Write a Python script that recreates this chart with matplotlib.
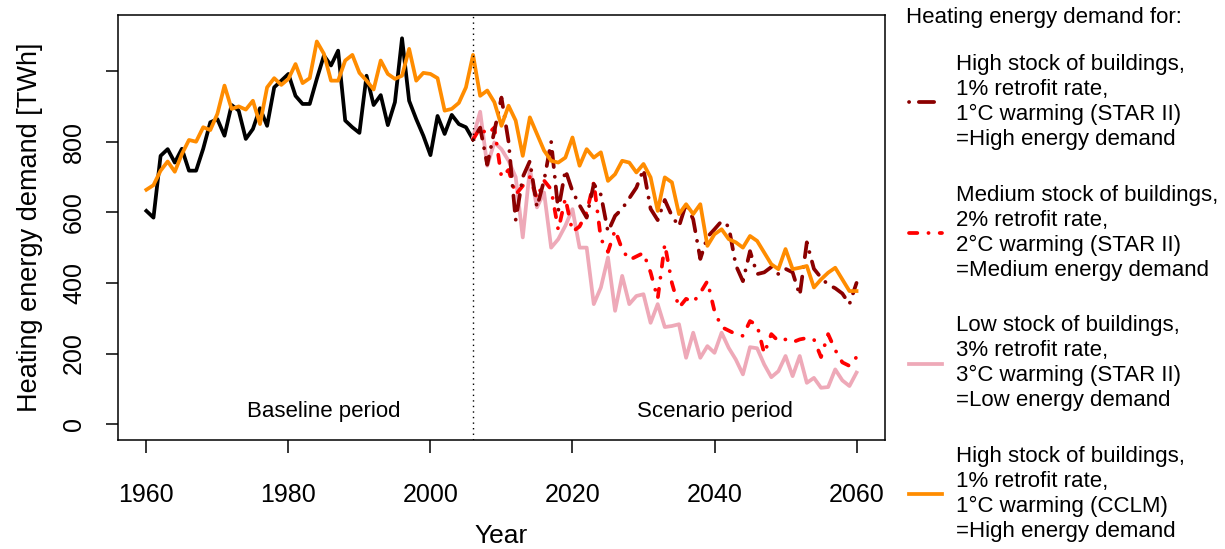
import numpy as np
import matplotlib
matplotlib.use("Agg")
import matplotlib.pyplot as plt

plt.rcParams['font.family'] = ['Liberation Sans', 'DejaVu Sans']
plt.rcParams['lines.scale_dashes'] = False

# Baseline period (observed), 1960-2006
years_base = np.arange(1960, 2007)
baseline = [604, 585, 760, 779, 741, 780, 718, 718, 780, 855,
            864, 817, 904, 888, 808, 836, 895, 845, 954, 973,
            992, 930, 907, 907, 978, 1044, 1016, 1058, 860, 841,
            825, 987, 904, 932, 847, 912, 1093, 916, 864, 817,
            762, 873, 822, 876, 850, 841, 806]

# CCLM run, 1960-2060
years_cclm = np.arange(1960, 2061)
high_cclm = [664, 677, 718, 744, 715, 765, 805, 800, 841, 833,
             879, 959, 893, 900, 891, 916, 850, 954, 980, 961,
             978, 1020, 966, 980, 1084, 1049, 973, 973, 1030, 1046,
             995, 973, 948, 1030, 992, 978, 987, 1063, 973, 995,
             992, 980, 888, 893, 910, 954, 1046, 930, 945, 912,
             845, 902, 860, 760, 869, 822, 775, 746, 741, 755,
             812, 732, 779, 755, 770, 689, 708, 746, 741, 713,
             737, 699, 604, 699, 685, 595, 623, 595, 623, 505,
             538, 552, 524, 515, 500, 533, 519, 486, 453, 439,
             496, 439, 443, 448, 387, 410, 429, 443, 410, 377,
             377]

# STAR II scenarios, 2006-2060
years_scen = np.arange(2006, 2061)
high_star = [806, 840, 735, 830, 925, 800, 578, 700, 745, 615,
             690, 800, 605, 720, 660, 620, 585, 680, 650, 545,
             590, 610, 640, 670, 722, 610, 578, 635, 590, 560,
             625, 580, 468, 530, 552, 575, 560, 450, 405, 490,
             425, 430, 445, 425, 440, 430, 365, 515, 440, 415,
             395, 385, 370, 340, 400]
medium_star = [806, 840, 820, 840, 700, 720, 650, 675, 700, 640,
               690, 665, 550, 640, 545, 560, 600, 685, 525, 488,
               550, 495, 465, 475, 485, 430, 355, 510, 400, 330,
               355, 345, 372, 405, 320, 275, 265, 255, 250, 292,
               280, 200, 255, 235, 240, 232, 240, 244, 240, 190,
               255, 210, 175, 165, 190]
low_star = [812, 885, 732, 798, 779, 746, 700, 529, 723, 614,
            656, 500, 524, 562, 609, 500, 500, 340, 387, 472,
            321, 420, 340, 363, 368, 287, 340, 275, 278, 283,
            188, 259, 188, 221, 202, 259, 216, 183, 141, 218,
            215, 169, 133, 150, 193, 136, 193, 117, 131, 103,
            105, 155, 124, 108, 146]

labels = [
    "High stock of buildings,\n1% retrofit rate,\n1°C warming (STAR II)\n=High energy demand",
    "Medium stock of buildings,\n2% retrofit rate,\n2°C warming (STAR II)\n=Medium energy demand",
    "Low stock of buildings,\n3% retrofit rate,\n3°C warming (STAR II)\n=Low energy demand",
    "High stock of buildings,\n1% retrofit rate,\n1°C warming (CCLM)\n=High energy demand",
]

fig = plt.figure(figsize=(12.25, 5.49), dpi=100)
ax = fig.add_axes([0.0963, 0.1985, 0.6261, 0.7742])

lw = 2.7
ax.plot(years_base, baseline, color='black', lw=lw)
l_low, = ax.plot(years_scen, low_star, color='#EEA9B8', lw=lw)
l_med, = ax.plot(years_scen, medium_star, color='red', lw=lw,
                 dashes=(6, 8, 0.1, 8), dash_capstyle='round')
l_high, = ax.plot(years_scen, high_star, color='#8B0000', lw=lw,
                  dashes=(0.1, 7, 11, 7), dash_capstyle='round')
l_cclm, = ax.plot(years_cclm, high_cclm, color='#FF8C00', lw=lw)

ax.axvline(2006, color='black', lw=1, ls=(0, (1, 3)))

ax.text(1985, 37, "Baseline period", ha='center', va='center', fontsize=16)
ax.text(2040, 37, "Scenario period", ha='center', va='center', fontsize=16)

ax.set_xlim(1956, 2064)
ax.set_ylim(-45, 1159)
ax.set_xticks([1960, 1980, 2000, 2020, 2040, 2060])
ax.set_yticks([0, 200, 400, 600, 800, 1000])
ax.set_yticklabels(['0', '200', '400', '600', '800', ''], rotation=90, va='center')
ax.tick_params(axis='both', direction='out', length=9, width=1.1, labelsize=18)
ax.tick_params(axis='x', pad=22)
ax.tick_params(axis='y', pad=14)
for s in ax.spines.values():
    s.set_linewidth(1.1)

ax.set_xlabel("Year", fontsize=19, labelpad=12)
ax.set_ylabel("Heating energy demand [TWh]", fontsize=19.5, labelpad=14)

# legend title as separate text, entries below
fig.text(906 / 1225, 1 - 18 / 549, "Heating energy demand for:",
         ha='left', va='center', fontsize=16)
leg = fig.legend([l_high, l_med, l_low, l_cclm], labels,
                 loc='upper left', bbox_to_anchor=(0.7256, 0.938),
                 frameon=False, fontsize=16,
                 handlelength=1.5, handletextpad=0.6, labelspacing=1.55)
for t in leg.get_texts():
    t.set_linespacing(1.25)

fig.savefig("out.png", dpi=100)
